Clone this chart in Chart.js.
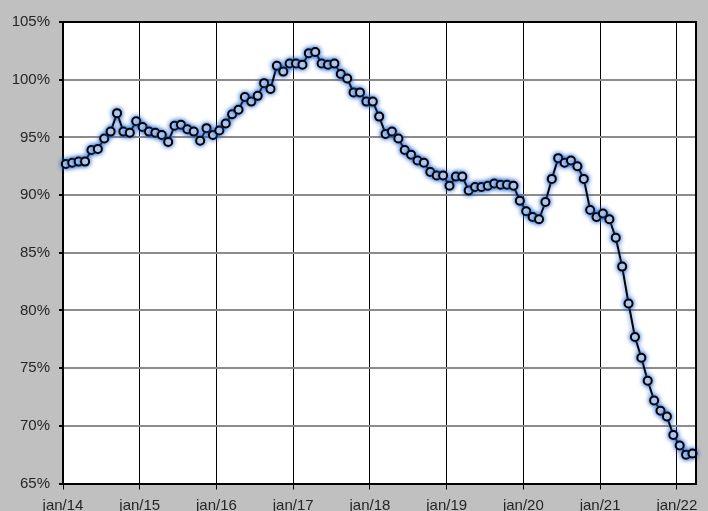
<!DOCTYPE html>
<html>
<head>
<meta charset="utf-8">
<script src="https://cdn.jsdelivr.net/npm/chart.js@4/dist/chart.umd.min.js"></script>
<style>
  html, body { margin: 0; padding: 0; background: #c0c0c0; }
  #c { display: block; }
</style>
</head>
<body>
<canvas id="c" width="708" height="511"></canvas>
<script>
// Monthly series, jan/14 .. mar/22 (values in %)
const months = [
  'jan/14','feb/14','mar/14','apr/14','may/14','jun/14','jul/14','aug/14','sep/14','oct/14','nov/14','dec/14',
  'jan/15','feb/15','mar/15','apr/15','may/15','jun/15','jul/15','aug/15','sep/15','oct/15','nov/15','dec/15',
  'jan/16','feb/16','mar/16','apr/16','may/16','jun/16','jul/16','aug/16','sep/16','oct/16','nov/16','dec/16',
  'jan/17','feb/17','mar/17','apr/17','may/17','jun/17','jul/17','aug/17','sep/17','oct/17','nov/17','dec/17',
  'jan/18','feb/18','mar/18','apr/18','may/18','jun/18','jul/18','aug/18','sep/18','oct/18','nov/18','dec/18',
  'jan/19','feb/19','mar/19','apr/19','may/19','jun/19','jul/19','aug/19','sep/19','oct/19','nov/19','dec/19',
  'jan/20','feb/20','mar/20','apr/20','may/20','jun/20','jul/20','aug/20','sep/20','oct/20','nov/20','dec/20',
  'jan/21','feb/21','mar/21','apr/21','may/21','jun/21','jul/21','aug/21','sep/21','oct/21','nov/21','dec/21',
  'jan/22','feb/22','mar/22'
];
const values = [
  92.7, 92.8, 92.9, 92.9, 93.9, 94.0, 94.9, 95.5, 97.1, 95.5, 95.4, 96.4,
  95.9, 95.5, 95.4, 95.2, 94.6, 96.0, 96.1, 95.7, 95.5, 94.7, 95.8, 95.2,
  95.6, 96.2, 97.0, 97.4, 98.5, 98.1, 98.6, 99.7, 99.2, 101.2, 100.7, 101.4,
  101.4, 101.3, 102.3, 102.4, 101.4, 101.3, 101.4, 100.5, 100.1, 98.9, 98.9, 98.1,
  98.1, 96.8, 95.3, 95.5, 94.9, 93.9, 93.5, 93.0, 92.8, 92.0, 91.7, 91.7,
  90.8, 91.6, 91.6, 90.4, 90.7, 90.7, 90.8, 91.0, 90.9, 90.9, 90.8, 89.5,
  88.6, 88.1, 87.9, 89.4, 91.4, 93.2, 92.8, 93.0, 92.5, 91.4, 88.7, 88.1,
  88.4, 87.9, 86.3, 83.8, 80.6, 77.7, 75.9, 73.9, 72.2, 71.3, 70.8, 69.2,
  68.3, 67.5, 67.6
];
const tickLabels = ['jan/14','jan/15','jan/16','jan/17','jan/18','jan/19','jan/20','jan/21','jan/22'];
const yTicks = [65, 70, 75, 80, 85, 90, 95, 100, 105];

// points are dated mid-month on a month-index axis
const MID_MONTH = 0.45;
const points = values.map((v, i) => ({ x: i + MID_MONTH, y: v }));

const plotFrame = {
  id: 'plotFrame',
  beforeDraw(chart) {
    const { ctx, chartArea: a } = chart;
    ctx.save();
    ctx.fillStyle = '#ffffff';
    ctx.fillRect(a.left, a.top, a.right - a.left, a.bottom - a.top);
    ctx.restore();
  },
  afterDatasetsDraw(chart) {
    const { ctx, chartArea: a } = chart;
    ctx.save();
    ctx.strokeStyle = '#000';
    ctx.lineWidth = 2;
    ctx.beginPath();
    ctx.moveTo(a.left, a.top);
    ctx.lineTo(a.right, a.top);
    ctx.lineTo(a.right, a.bottom);
    ctx.stroke();
    ctx.restore();
  },
  beforeDatasetDraw(chart) {
    const ctx = chart.ctx;
    ctx.save();
    ctx.shadowColor = 'rgba(30,100,210,1)';
    ctx.shadowBlur = 5;
  },
  afterDatasetDraw(chart) {
    chart.ctx.restore();
  }
};

new Chart(document.getElementById('c'), {
  type: 'line',
  data: {
    datasets: [{
      data: points,
      borderColor: '#000',
      borderWidth: 2,
      pointRadius: 4,
      pointBorderWidth: 2,
      pointBackgroundColor: '#fff',
      pointBorderColor: '#000',
      tension: 0,
      clip: false
    }]
  },
  options: {
    responsive: false,
    animation: false,
    layout: { padding: { top: 22, right: 12, left: 0, bottom: 0 } },
    plugins: { legend: { display: false }, tooltip: { enabled: false }, title: { display: false } },
    scales: {
      x: {
        type: 'linear',
        min: 0,
        max: 99,
        afterFit(s) { s.height = 27.5; },
        afterBuildTicks(s) { s.ticks = tickLabels.map((_, i) => ({ value: i * 12 })); },
        ticks: {
          autoSkip: false,
          maxRotation: 0,
          padding: 7,
          color: '#262626',
          font: { family: 'Liberation Sans, Arial, sans-serif', size: 15 },
          callback: (v) => tickLabels[Math.round(v / 12)]
        },
        grid: { color: '#000', lineWidth: 1, tickLength: 6, tickColor: '#000', drawOnChartArea: true },
        border: { color: '#000', width: 2 }
      },
      y: {
        min: 65,
        max: 105,
        afterFit(s) { s.width = 63; },
        afterBuildTicks(s) { s.ticks = yTicks.map(v => ({ value: v })); },
        ticks: {
          padding: 9,
          color: '#262626',
          font: { family: 'Liberation Sans, Arial, sans-serif', size: 15 },
          callback: (v) => v + '%'
        },
        grid: { color: '#8c8c8c', lineWidth: 2, tickLength: 4, tickColor: '#000' },
        border: { color: '#000', width: 2 }
      }
    }
  },
  plugins: [plotFrame]
});
</script>
</body>
</html>
